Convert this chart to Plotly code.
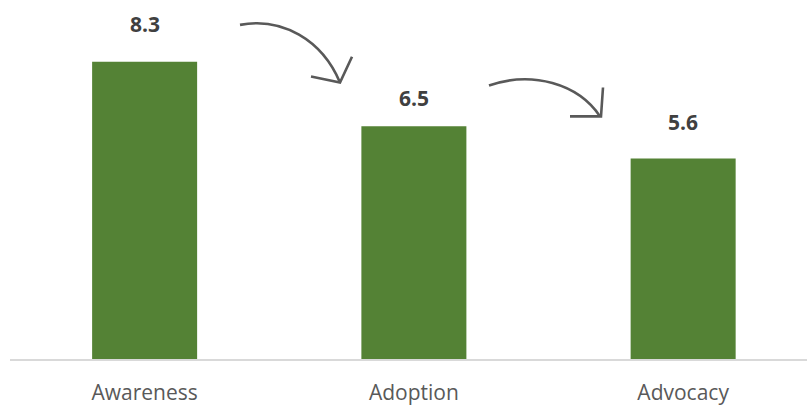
import plotly.graph_objects as go

categories = ["Awareness", "Adoption", "Advocacy"]
values = [8.3, 6.5, 5.6]
value_labels = ["8.3", "6.5", "5.6"]

W, H = 807, 406
ML, MR, MT, MB = 10, 0, 0, 45
PW, PH = W - ML - MR, H - MT - MB
label_shifts = [22, 12, 21]

def px(x, y):
    return (x - ML) / PW, (H - MB - y) / PH

def path(points_cmds):
    out = []
    for cmd, pts in points_cmds:
        coords = []
        for (x, y) in pts:
            a, b = px(x, y)
            coords.append(f"{a:.5f},{b:.5f}")
        out.append(cmd + " " + " ".join(coords))
    return " ".join(out)

fig = go.Figure()
fig.add_trace(go.Bar(
    x=categories, y=values, width=0.39,
    marker=dict(color="#548235", line=dict(width=0)),
    hoverinfo="skip",
))

for c, v, t, s in zip(categories, values, value_labels, label_shifts):
    fig.add_annotation(x=c, y=v, text=f"<b>{t}</b>", showarrow=False,
                       yanchor="bottom", yshift=s,
                       font=dict(family="Open Sans", size=21, color="#404040"))

arrow_color = "#595959"
arrows = [
    [("M", [(240, 25)]), ("C", [(282, 17), (322, 40), (340, 83)])],
    [("M", [(311, 77)]), ("L", [(340, 83)]), ("L", [(352, 57)])],
    [("M", [(489, 86)]), ("C", [(532, 71), (578, 84), (600, 117)])],
    [("M", [(570, 117)]), ("L", [(601, 117)]), ("L", [(603, 88)])],
]
for a in arrows:
    fig.add_shape(type="path", xref="paper", yref="paper", path=path(a),
                  line=dict(color=arrow_color, width=2.6))

fig.update_layout(
    width=W, height=H,
    margin=dict(l=ML, r=MR, t=MT, b=MB, pad=0),
    paper_bgcolor="white", plot_bgcolor="white",
    showlegend=False,
    xaxis=dict(range=[-0.5, 2.46], showline=True, linecolor="#d9d9d9", linewidth=1.5,
               showgrid=False, zeroline=False, ticks="", ticklabelstandoff=14,
               tickfont=dict(family="Open Sans", size=21, color="#595959"),
               fixedrange=True),
    yaxis=dict(range=[0, PH / 36.0], visible=False, showgrid=False, zeroline=False,
               fixedrange=True),
)

fig.write_html("out.html", config={"displayModeBar": False})
